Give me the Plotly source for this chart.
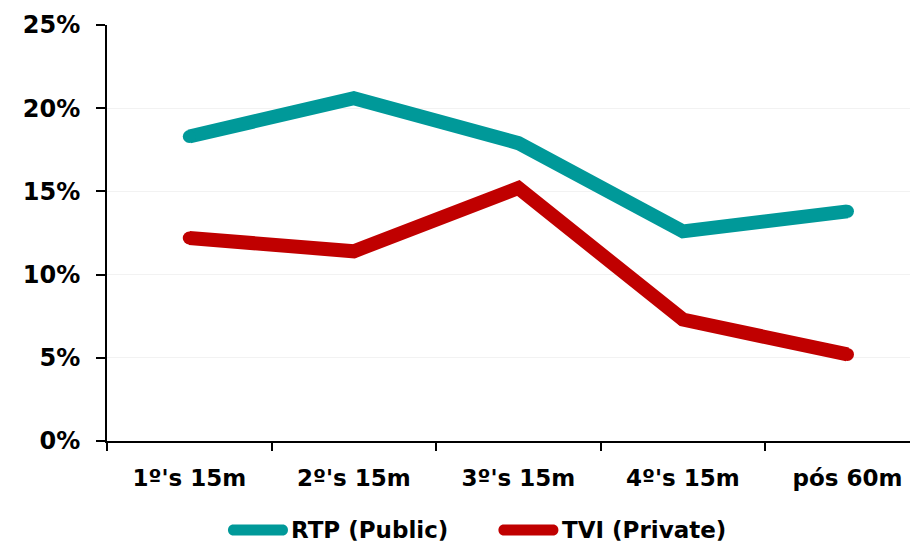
import plotly.graph_objects as go

categories = ["1º's 15m", "2º's 15m", "3º's 15m", "4º's 15m", "pós 60m"]
rtp_public = [18.3, 20.6, 17.9, 12.6, 13.8]
tvi_private = [12.2, 11.4, 15.2, 7.3, 5.2]
y_ticks = [0, 5, 10, 15, 20, 25]
y_labels = [f"{v}%" for v in y_ticks]

series = [
    ("RTP (Public)", rtp_public, "#009999"),
    ("TVI (Private)", tvi_private, "#C00000"),
]

font_family = "DejaVu Sans, Verdana, sans-serif"

fig = go.Figure()
for name, values, color in series:
    fig.add_trace(
        go.Scatter(
            x=categories,
            y=values,
            mode="lines+markers",
            name=name,
            line={"color": color, "width": 14},
            marker={"color": color, "size": 13, "line": {"width": 0}},
            showlegend=False,
        )
    )


def rounded_swatch(x_center, y_center, color, length=60, thick=11):
    r = thick / 2
    h = length / 2 - r
    k = 1.333 * r
    path = (
        f"M{-h},{-r} L{h},{-r} C{h + k},{-r} {h + k},{r} {h},{r} "
        f"L{-h},{r} C{-h - k},{r} {-h - k},{-r} {-h},{-r} Z"
    )
    return {
        "type": "path",
        "xref": "paper",
        "yref": "paper",
        "xsizemode": "pixel",
        "ysizemode": "pixel",
        "xanchor": x_center,
        "yanchor": y_center,
        "path": path,
        "fillcolor": color,
        "line": {"width": 0},
    }


# hand-made legend so the swatch is long with rounded ends
legend_y = -0.214
legend_items = [(0.188, 0.2267), (0.5248, 0.5641)]
shapes = []
annotations = []
for (name, _, color), (sx, tx) in zip(series, legend_items):
    shapes.append(rounded_swatch(sx, legend_y, color))
    annotations.append(
        {
            "text": name,
            "xref": "paper",
            "yref": "paper",
            "x": tx,
            "y": legend_y,
            "xanchor": "left",
            "yanchor": "middle",
            "showarrow": False,
            "font": {"size": 23, "family": font_family, "weight": "bold", "color": "black"},
        }
    )

fig.update_layout(
    width=912,
    height=547,
    margin={"l": 107, "r": 2, "t": 25, "b": 106},
    paper_bgcolor="white",
    plot_bgcolor="white",
    font={"family": font_family, "color": "black", "size": 20},
    showlegend=False,
    shapes=shapes,
    annotations=annotations,
    xaxis={
        "type": "category",
        "range": [-0.5, 4.38],
        "automargin": False,
        "showgrid": False,
        "showline": True,
        "linecolor": "black",
        "linewidth": 2,
        "ticks": "outside",
        "tickson": "boundaries",
        "ticklen": 8,
        "tickwidth": 2,
        "tickcolor": "black",
        "ticklabelstandoff": 15,
        "tickfont": {"size": 23, "family": font_family, "weight": "bold"},
        "zeroline": False,
    },
    yaxis={
        "range": [0, 25],
        "automargin": False,
        "tickmode": "array",
        "tickvals": y_ticks,
        "ticktext": y_labels,
        "showgrid": True,
        "gridcolor": "#f2f2f2",
        "gridwidth": 1,
        "showline": True,
        "linecolor": "black",
        "linewidth": 2,
        "ticks": "outside",
        "ticklen": 9,
        "tickwidth": 2,
        "tickcolor": "black",
        "ticklabelstandoff": 11,
        "tickfont": {"size": 24, "family": font_family, "weight": "bold"},
        "zeroline": False,
    },
)

fig.write_html(
    "out.html",
    config={"displayModeBar": False},
    post_script="document.body.style.margin = '0';",
)
